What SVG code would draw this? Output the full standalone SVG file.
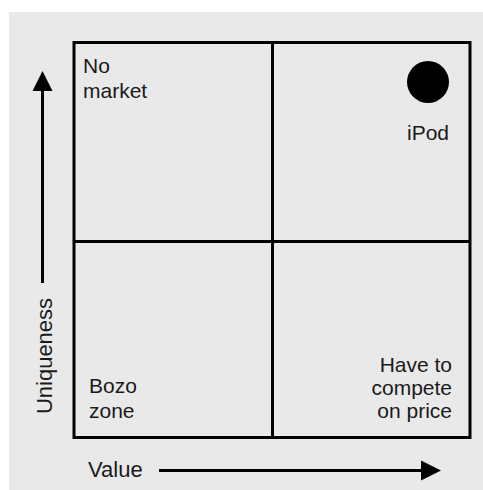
<svg xmlns="http://www.w3.org/2000/svg" width="483" height="490" viewBox="0 0 483 490">
<defs>
<style>
.lbl{font-family:"Liberation Sans",Arial,sans-serif;font-size:21px;fill:#1a1a1a}
.ax{font-family:"Liberation Sans",Arial,sans-serif;font-size:22px;fill:#1a1a1a}
.grid{fill:none;stroke:#000;stroke-width:3}
.arr{stroke:#000;stroke-width:3;fill:none}
</style>
</defs>
<rect x="0" y="0" width="483" height="490" fill="#ffffff"/>
<rect x="9" y="12" width="474" height="478" fill="#e9e9e9"/>
<g id="matrix">
<rect class="grid" x="74" y="42.5" width="396" height="395"/>
<line class="grid" x1="272.5" y1="42.5" x2="272.5" y2="437.5"/>
<line class="grid" x1="74" y1="241.5" x2="470" y2="241.5"/>
</g>
<g id="q-no-market"><text class="lbl" x="83" y="73">No</text><text class="lbl" x="83" y="98">market</text></g>
<g id="q-ipod"><circle cx="428" cy="82" r="21" fill="#000"/><text class="lbl" x="449" y="140" text-anchor="end">iPod</text></g>
<g id="q-bozo"><text class="lbl" x="89" y="393">Bozo</text><text class="lbl" x="89" y="418">zone</text></g>
<g id="q-price"><text class="lbl" x="452" y="372" text-anchor="end">Have to</text><text class="lbl" x="452" y="395" text-anchor="end">compete</text><text class="lbl" x="452" y="418" text-anchor="end">on price</text></g>
<g id="connectors">
<line class="arr" x1="42.5" y1="283" x2="42.5" y2="88"/>
<polygon points="42.5,71 32.5,91 52.5,91" fill="#000"/>
<line class="arr" x1="159" y1="470.5" x2="424" y2="470.5"/>
<polygon points="441,470.5 421,460.5 421,480.5" fill="#000"/>
</g>
<g id="axis-y"><text class="ax" transform="translate(52,356) rotate(-90)" text-anchor="middle">Uniqueness</text></g>
<g id="axis-x"><text class="ax" x="88" y="477">Value</text></g>
</svg>
